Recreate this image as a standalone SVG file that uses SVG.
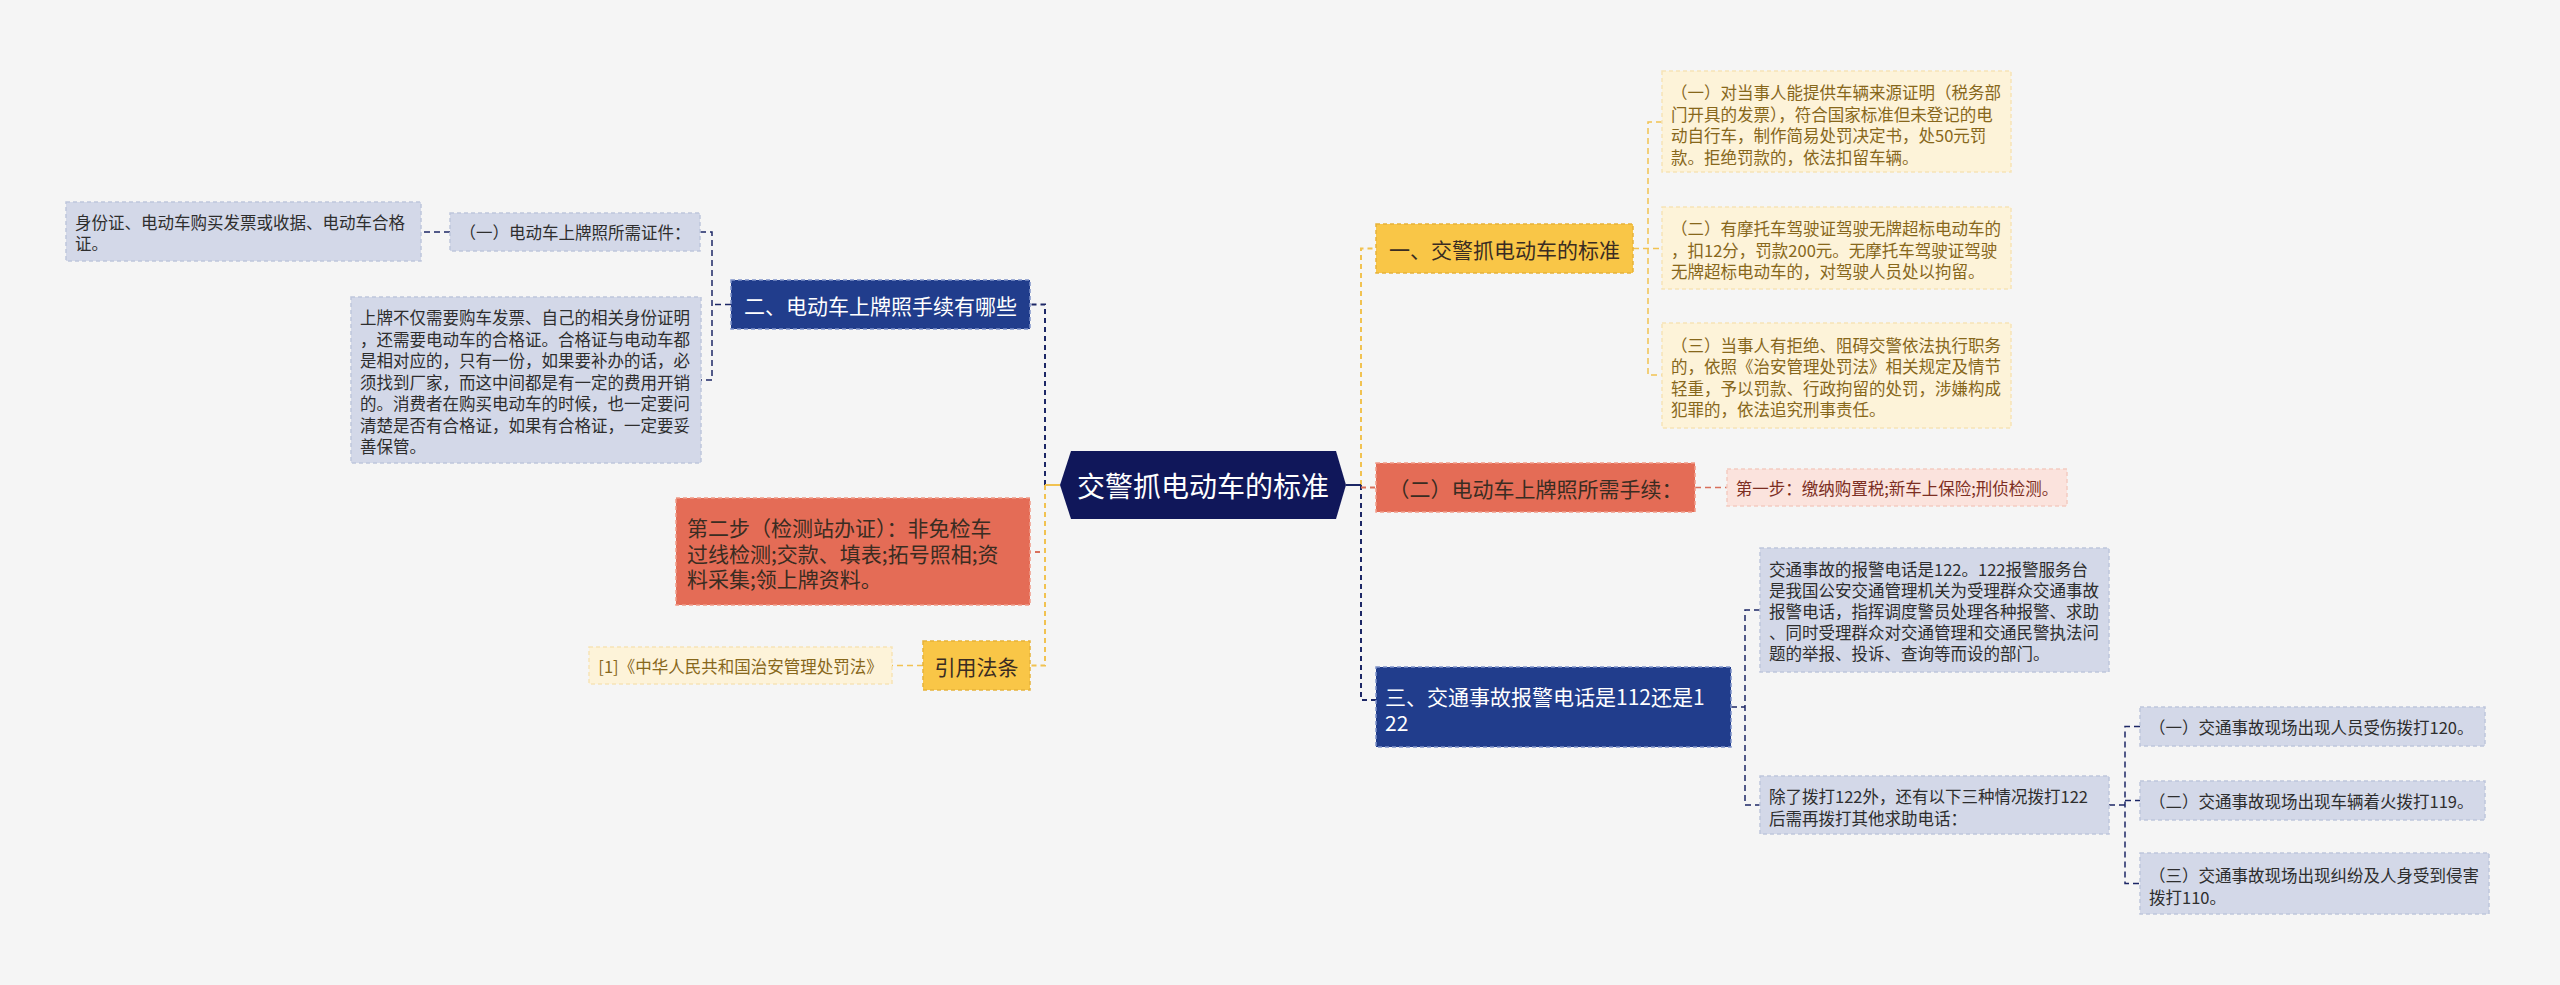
<svg xmlns="http://www.w3.org/2000/svg" width="2560" height="985" viewBox="0 0 2560 985">
<style>
text{font-family:"Noto Sans CJK SC","Noto Sans",sans-serif;dominant-baseline:central}
.root{fill:#10175a}
.nv{fill:#213d8c;stroke:#7f93c9;stroke-width:1.5;stroke-dasharray:4 3}
.yl{fill:#f9c647;stroke:#e6b23a;stroke-width:1.5;stroke-dasharray:4 3}
.rd{fill:#e46c56;stroke:#f09a88;stroke-width:1.5;stroke-dasharray:4 3}
.lb{fill:#d3d8e8;stroke:#bfc6dc;stroke-width:1.5;stroke-dasharray:4 3}
.ly{fill:#fdf3d9;stroke:#f6e4b6;stroke-width:1.5;stroke-dasharray:4 3}
.lr{fill:#fbe3dd;stroke:#f4cbc1;stroke-width:1.5;stroke-dasharray:4 3}
.troot{fill:#ffffff;font-size:28px}
.tw{fill:#ffffff;font-size:21px}
.td{fill:#3a2c22;font-size:21px}
.tb{fill:#2e2e2e;font-size:16.5px}
.ty{fill:#87671b;font-size:16.5px}
.tr{fill:#7c2e22;font-size:16.5px}
.mid{text-anchor:middle}
.c{fill:none;stroke-width:2;stroke-dasharray:5 4}
.cs{fill:none;stroke-width:2}
.c2{fill:none;stroke-width:1.5;stroke-dasharray:6 4}
.cn{stroke:#1c2766}
.cy{stroke:#f1c251}
.cr{stroke:#d9705b}
</style>
<rect width="2560" height="985" fill="#f5f5f5"/>
<g id="connectors">
  <path class="c cr" d="M1045 485 V552 H1030"/>
  <path class="c cn" d="M1045 485 V304.5 H1030"/>
  <path class="c cy" d="M1045 485 V665.5 H1030"/>
  <path class="cs cy" d="M1060 485 H1045"/>
  <path class="c cn" d="M1361 485 V700 H1376"/>
  <path class="c cy" d="M1361 485 V248.5 H1376"/>
  <path class="c cr" d="M1361 487.5 H1376"/>
  <path class="cs cn" d="M1346 485 H1361"/>
  <path class="c2 cy" d="M1633 248.5 H1662 M1662 122 H1648 V375 H1662"/>
  <path class="c2 cr" d="M1695 487.5 H1727"/>
  <path class="c2 cn" d="M1731 707 H1745 M1760 610 H1745 V805 H1760"/>
  <path class="c2 cn" d="M2109 805 H2125 M2140 726.5 H2125 V883.5 H2140 M2125 800.5 H2140"/>
  <path class="c2 cn" d="M731 304.5 H712 M700 232 H712 V380 H700"/>
  <path class="c2 cn" d="M450 232 H421"/>
  <path class="c2 cy" d="M923 665.5 H892"/>
</g>
<g id="root">
  <polygon class="root" points="1060,485 1071,451 1336,451 1346,485 1336,519 1071,519"/>
  <text class="troot mid" x="1203" y="485">交警抓电动车的标准</text>
</g>
<g id="n-yi">
  <rect class="yl" x="1376" y="224" width="257" height="49"/>
  <text class="td mid" x="1504.5" y="248.5">一、交警抓电动车的标准</text>
</g>
<g id="n-yi-1">
  <rect class="ly" x="1662" y="71" width="349" height="101"/>
  <text class="ty" x="1671" y="92">（一）对当事人能提供车辆来源证明（税务部</text>
  <text class="ty" x="1671" y="113.5">门开具的发票），符合国家标准但未登记的电</text>
  <text class="ty" x="1671" y="135">动自行车，制作简易处罚决定书，处50元罚</text>
  <text class="ty" x="1671" y="156.5">款。拒绝罚款的，依法扣留车辆。</text>
</g>
<g id="n-yi-2">
  <rect class="ly" x="1662" y="207" width="349" height="82"/>
  <text class="ty" x="1671" y="228">（二）有摩托车驾驶证驾驶无牌超标电动车的</text>
  <text class="ty" x="1671" y="249.5">，扣12分，罚款200元。无摩托车驾驶证驾驶</text>
  <text class="ty" x="1671" y="271">无牌超标电动车的，对驾驶人员处以拘留。</text>
</g>
<g id="n-yi-3">
  <rect class="ly" x="1662" y="323" width="349" height="105"/>
  <text class="ty" x="1671" y="344.5">（三）当事人有拒绝、阻碍交警依法执行职务</text>
  <text class="ty" x="1671" y="366">的，依照《治安管理处罚法》相关规定及情节</text>
  <text class="ty" x="1671" y="387.5">轻重，予以罚款、行政拘留的处罚，涉嫌构成</text>
  <text class="ty" x="1671" y="409">犯罪的，依法追究刑事责任。</text>
</g>
<g id="n-er-shouxu">
  <rect class="rd" x="1376" y="463" width="319" height="49"/>
  <text class="td mid" x="1535.5" y="487.5">（二）电动车上牌照所需手续：</text>
</g>
<g id="n-step1">
  <rect class="lr" x="1727" y="469" width="340" height="37"/>
  <text class="tr mid" x="1897" y="487.5">第一步：缴纳购置税;新车上保险;刑侦检测。</text>
</g>
<g id="n-san">
  <rect class="nv" x="1376" y="667" width="355" height="80"/>
  <text class="tw" x="1385" y="696">三、交通事故报警电话是112还是1</text>
  <text class="tw" x="1385" y="722">22</text>
</g>
<g id="n-san-1">
  <rect class="lb" x="1760" y="548" width="349" height="124"/>
  <text class="tb" x="1769" y="569">交通事故的报警电话是122。122报警服务台</text>
  <text class="tb" x="1769" y="590">是我国公安交通管理机关为受理群众交通事故</text>
  <text class="tb" x="1769" y="611">报警电话，指挥调度警员处理各种报警、求助</text>
  <text class="tb" x="1769" y="632">、同时受理群众对交通管理和交通民警执法问</text>
  <text class="tb" x="1769" y="653">题的举报、投诉、查询等而设的部门。</text>
</g>
<g id="n-san-2">
  <rect class="lb" x="1760" y="776" width="349" height="58"/>
  <text class="tb" x="1769" y="796">除了拨打122外，还有以下三种情况拨打122</text>
  <text class="tb" x="1769" y="818">后需再拨打其他求助电话：</text>
</g>
<g id="n-san-2-1">
  <rect class="lb" x="2140" y="707" width="345" height="39"/>
  <text class="tb" x="2149" y="726.5">（一）交通事故现场出现人员受伤拨打120。</text>
</g>
<g id="n-san-2-2">
  <rect class="lb" x="2140" y="781" width="345" height="39"/>
  <text class="tb" x="2149" y="800.5">（二）交通事故现场出现车辆着火拨打119。</text>
</g>
<g id="n-san-2-3">
  <rect class="lb" x="2140" y="853" width="349" height="61"/>
  <text class="tb" x="2149" y="875">（三）交通事故现场出现纠纷及人身受到侵害</text>
  <text class="tb" x="2149" y="897">拨打110。</text>
</g>
<g id="n-er">
  <rect class="nv" x="731" y="280" width="299" height="49"/>
  <text class="tw mid" x="880.5" y="304.5">二、电动车上牌照手续有哪些</text>
</g>
<g id="n-er-1">
  <rect class="lb" x="450" y="213" width="250" height="38"/>
  <text class="tb mid" x="575" y="232">（一）电动车上牌照所需证件：</text>
</g>
<g id="n-er-1-1">
  <rect class="lb" x="66" y="202" width="355" height="59"/>
  <text class="tb" x="75" y="222">身份证、电动车购买发票或收据、电动车合格</text>
  <text class="tb" x="75" y="243">证。</text>
</g>
<g id="n-er-2">
  <rect class="lb" x="351" y="297" width="350" height="166"/>
  <text class="tb" x="360" y="317">上牌不仅需要购车发票、自己的相关身份证明</text>
  <text class="tb" x="360" y="338.5">，还需要电动车的合格证。合格证与电动车都</text>
  <text class="tb" x="360" y="360">是相对应的，只有一份，如果要补办的话，必</text>
  <text class="tb" x="360" y="381.5">须找到厂家，而这中间都是有一定的费用开销</text>
  <text class="tb" x="360" y="403">的。消费者在购买电动车的时候，也一定要问</text>
  <text class="tb" x="360" y="424.5">清楚是否有合格证，如果有合格证，一定要妥</text>
  <text class="tb" x="360" y="446">善保管。</text>
</g>
<g id="n-step2">
  <rect class="rd" x="676" y="498" width="354" height="107"/>
  <text class="td" x="687" y="527">第二步（检测站办证）：非免检车</text>
  <text class="td" x="687" y="552.5">过线检测;交款、填表;拓号照相;资</text>
  <text class="td" x="687" y="578">料采集;领上牌资料。</text>
</g>
<g id="n-cite">
  <rect class="yl" x="923" y="641" width="107" height="49"/>
  <text class="td mid" x="976.5" y="665.5">引用法条</text>
</g>
<g id="n-cite-1">
  <rect class="ly" x="589" y="647" width="303" height="37"/>
  <text class="ty mid" x="740.5" y="665.5">[1]《中华人民共和国治安管理处罚法》</text>
</g>
</svg>
